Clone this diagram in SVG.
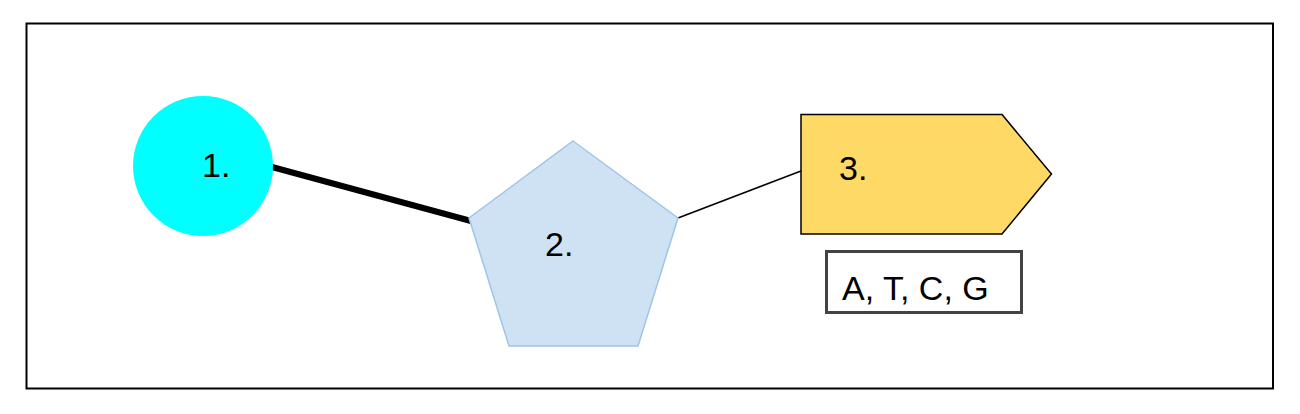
<svg xmlns="http://www.w3.org/2000/svg" width="1300" height="414" viewBox="0 0 1300 414">
<style>
.t{font-family:"Liberation Sans",Arial,sans-serif;font-size:34px;fill:#000}
</style>
<rect width="1300" height="414" fill="#fff"/>
<rect x="26.5" y="23.5" width="1246.5" height="365" fill="none" stroke="#000" stroke-width="2"/>
<g id="connectors">
<line x1="272" y1="167" x2="471" y2="221" stroke="#000" stroke-width="6"/>
<line x1="678" y1="218" x2="801" y2="171" stroke="#000" stroke-width="1.5"/>
</g>
<g id="node1">
<circle cx="203" cy="166" r="70" fill="#00ffff"/>
<text class="t" x="202" y="177">1.</text>
</g>
<g id="node2">
<polygon points="573,141 678,218 638,346 509,346 469,218" fill="#cfe2f3" stroke="#9fc5e8" stroke-width="1.5"/>
<text class="t" x="545" y="256">2.</text>
</g>
<g id="node3">
<polygon points="801,114.5 1002,114.5 1051.5,174 1002,234 801,234" fill="#ffd966" stroke="#000" stroke-width="1.5"/>
<text class="t" x="839" y="180">3.</text>
</g>
<g id="label">
<rect x="826.5" y="251.5" width="195" height="61" fill="#fff" stroke="#434343" stroke-width="3"/>
<text class="t" x="842" y="300">A, T, C, G</text>
</g>
</svg>
